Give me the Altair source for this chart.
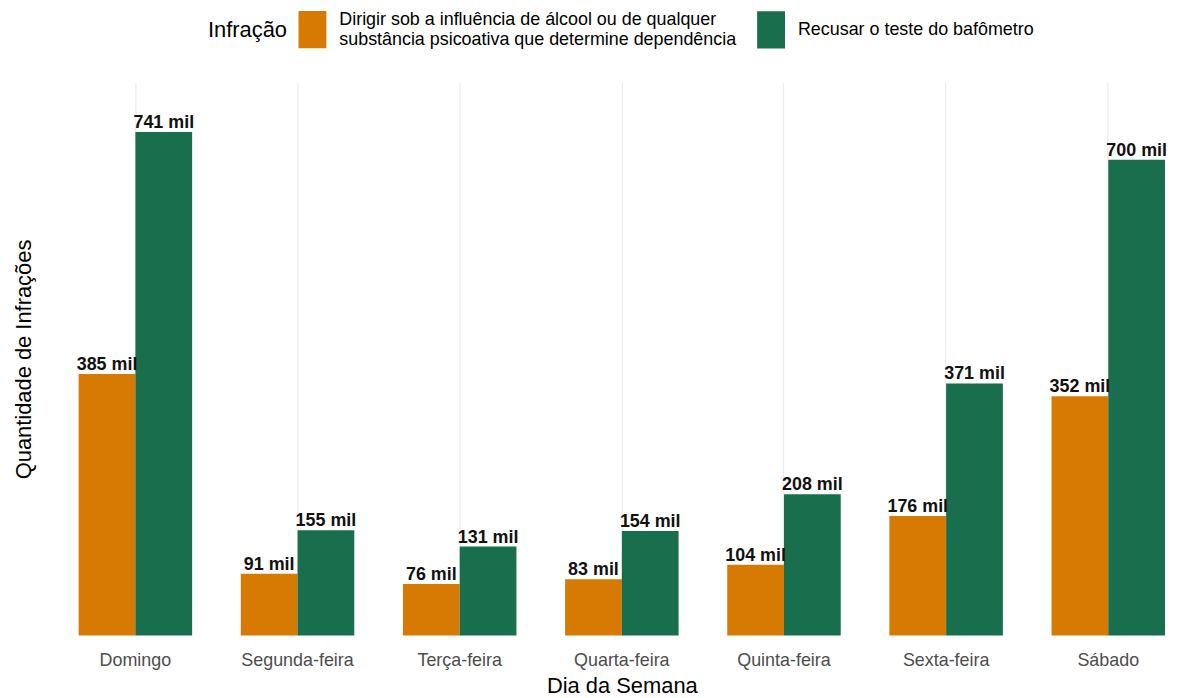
import altair as alt
import pandas as pd

categories = ["Domingo", "Segunda-feira", "Terça-feira", "Quarta-feira",
              "Quinta-feira", "Sexta-feira", "Sábado"]
series_names = [
    "Dirigir sob a influência de álcool ou de qualquer\nsubstância psicoativa que determine dependência",
    "Recusar o teste do bafômetro",
]
alcool = [385, 91, 76, 83, 104, 176, 352]
recusa = [741, 155, 131, 154, 208, 371, 700]
colors = ["#D67A03", "#186E4D"]

rows = []
for i, c in enumerate(categories):
    rows.append({"dia": c, "infracao": series_names[0], "ordem": 0, "valor": alcool[i]})
    rows.append({"dia": c, "infracao": series_names[1], "ordem": 1, "valor": recusa[i]})
df = pd.DataFrame(rows)

FONT = "Liberation Sans"

x_enc = alt.X("dia:N", sort=categories,
              scale=alt.Scale(paddingInner=0.3, paddingOuter=0.043),
              axis=alt.Axis(title="Dia da Semana", labelAngle=0, domain=False, ticks=False,
                            grid=True, gridColor="#EBEBEB", gridWidth=1.2, bandPosition=0.5,
                            labelColor="#4D4D4D", labelFontSize=18, labelPadding=16,
                            labelFont=FONT, titleFont=FONT, titleFontSize=22,
                            titleFontWeight="normal", titleColor="#000000", titlePadding=6))
y_enc = alt.Y("valor:Q", scale=alt.Scale(domain=[0, 814], nice=False, zero=True),
              axis=alt.Axis(title="Quantidade de Infrações", labels=False, ticks=False,
                            domain=False, grid=False, titleFont=FONT, titleFontSize=22,
                            titleFontWeight="normal", titleColor="#000000", titlePadding=36))
xoff = alt.XOffset("infracao:N", sort=series_names, scale=alt.Scale(paddingInner=0, paddingOuter=0))

color_enc = alt.Color("infracao:N", sort=series_names,
                      scale=alt.Scale(domain=series_names, range=colors),
                      legend=alt.Legend(title="Infração", orient="none", direction="horizontal",
                                        legendX=137, legendY=-72, titleOrient="left",
                                        titleFont=FONT, titleFontSize=22, titleFontWeight="normal",
                                        titleColor="#000000", titlePadding=6,
                                        labelFont=FONT, labelFontSize=18, labelColor="#000000",
                                        labelExpr="split(datum.label, '\\n')",
                                        labelBaseline=alt.ExprRef(expr="datum.index == 0 ? 'line-bottom' : 'middle'"),
                                        labelOffset=8, columnPadding=15,
                                        symbolType="M-0.75,-1H0.75V1H-0.75Z", symbolSize=1394,
                                        symbolStrokeWidth=0, symbolOpacity=1, padding=0,
                                        labelLimit=1000, titleLimit=1000))

bars = alt.Chart(df).mark_bar().encode(x=x_enc, y=y_enc, xOffset=xoff, color=color_enc)

labels = alt.Chart(df).transform_calculate(
    rotulo="datum.valor + ' mil'"
).mark_text(font=FONT, fontSize=18, fontWeight="bold", baseline="bottom",
            align="center", dy=0, color="#111111").encode(
    x=alt.X("dia:N", sort=categories), y="valor:Q", xOffset=xoff, text="rotulo:N")

chart = alt.layer(bars, labels).properties(
    width=1106, height=556, background="white",
    padding={"left": 5, "top": 1, "right": 0, "bottom": 0},
).configure_view(stroke=None)

chart.save("out.html", embed_options={"renderer": "svg", "actions": False})
